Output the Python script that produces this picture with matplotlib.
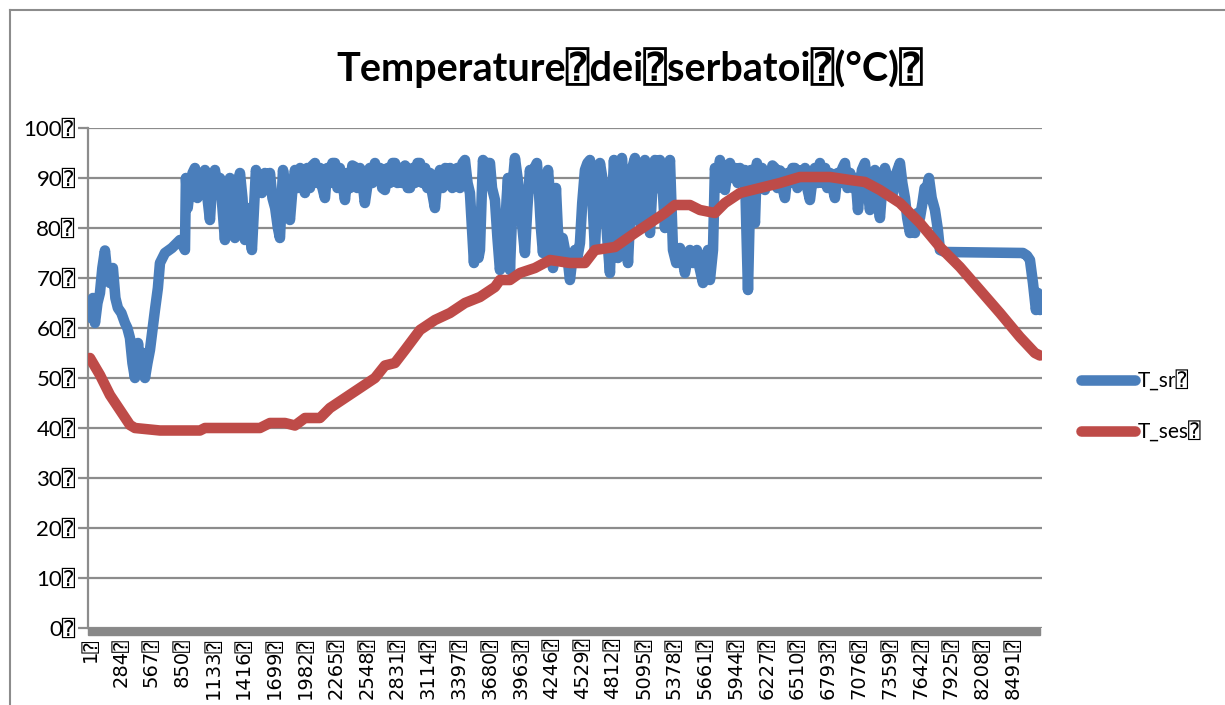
import matplotlib
matplotlib.use("Agg")
import matplotlib.pyplot as plt
from matplotlib.patches import Rectangle
from matplotlib.lines import Line2D

# ---- data ----
title_text = "Temperature⍰dei⍰serbatoi⍰(°C)⍰"
series_names = ["T_sr⍰", "T_ses⍰"]
y_ticks = [0, 10, 20, 30, 40, 50, 60, 70, 80, 90, 100]
x_tick_values = list(range(1, 8760, 283))

# (hour, °C) pairs for T_sr
t_sr_points = [
    (1, 64), (12, 62), (28, 66), (47, 61), (70, 65), (93, 67), (115, 72), (139, 75.5), (160, 71),
    (185, 69), (212, 72), (235, 66), (258, 64), (290, 63), (323, 61), (345, 60), (369, 58),
    (392, 53), (415, 50), (443, 57), (461, 53), (485, 55), (507, 50), (530, 53), (553, 55.6),
    (599, 63.6), (626, 68), (645, 73), (691, 75), (755, 76), (829, 77.6), (875, 75.6),
    (884, 90), (900, 84), (921, 88), (945, 91), (967, 92), (990, 86), (1013, 90), (1036, 87),
    (1059, 91.6), (1082, 86), (1105, 81.6), (1128, 90), (1151, 91.6), (1174, 88), (1197, 90),
    (1220, 84), (1243, 77.6), (1266, 88), (1289, 90), (1312, 82), (1335, 78), (1358, 88),
    (1381, 91), (1404, 86), (1427, 77.6), (1450, 84), (1470, 80), (1491, 75.6), (1510, 84),
    (1528, 91.6), (1550, 89), (1583, 87), (1610, 91), (1635, 88), (1657, 91), (1680, 86),
    (1705, 84), (1730, 80), (1749, 78), (1765, 86), (1777, 91.6), (1800, 88), (1820, 85),
    (1841, 81.6), (1865, 88), (1887, 91.6), (1910, 88), (1935, 92), (1955, 89), (1979, 87),
    (2000, 92), (2025, 88), (2048, 92.5), (2071, 93), (2095, 89), (2118, 92), (2140, 88),
    (2163, 86), (2185, 92), (2210, 89), (2232, 93), (2255, 93), (2278, 88), (2300, 92),
    (2325, 89), (2347, 85.6), (2370, 91), (2395, 88), (2415, 92.5), (2439, 92.2), (2460, 88),
    (2485, 92), (2510, 89), (2530, 85), (2550, 88), (2575, 92), (2600, 89), (2623, 93),
    (2645, 90), (2670, 92), (2690, 88), (2715, 87.6), (2740, 92), (2760, 89), (2785, 93),
    (2807, 93), (2830, 89), (2853, 92), (2875, 89), (2900, 92.5), (2925, 88), (2945, 88),
    (2970, 92), (2990, 89), (3015, 93), (3037, 93), (3060, 89), (3085, 92), (3105, 88),
    (3130, 91), (3150, 87), (3175, 84), (3198, 90), (3221, 91.6), (3245, 88), (3270, 92),
    (3290, 89), (3315, 92), (3335, 88), (3359, 89), (3380, 92), (3405, 88), (3430, 93),
    (3451, 93.6), (3475, 89), (3497, 87), (3534, 73), (3548, 80), (3561, 82), (3575, 74),
    (3589, 75.6), (3603, 85), (3617, 93.6), (3640, 90), (3660, 93), (3681, 93), (3700, 88),
    (3727, 85.6), (3750, 78), (3773, 71.6), (3796, 76), (3819, 79), (3835, 86), (3847, 90),
    (3856, 80), (3865, 71.6), (3880, 80), (3895, 90), (3911, 94), (3935, 90), (3957, 85.6),
    (3980, 80), (4003, 75), (4025, 84), (4049, 91.6), (4070, 88), (4090, 92), (4113, 93),
    (4130, 88), (4150, 80), (4169, 75), (4190, 84), (4215, 91.6), (4240, 85), (4261, 72),
    (4275, 80), (4288, 88), (4305, 80), (4325, 73.6), (4350, 78), (4371, 75.6), (4395, 74),
    (4417, 69.6), (4440, 74), (4463, 75.6), (4485, 74), (4509, 77), (4530, 85), (4555, 91.6),
    (4578, 93), (4601, 93.6), (4625, 85), (4647, 75.6), (4670, 88), (4693, 93), (4715, 90),
    (4739, 85), (4760, 78), (4785, 71), (4805, 85), (4822, 93.6), (4840, 85), (4859, 74),
    (4878, 85), (4895, 94), (4915, 88), (4935, 80), (4951, 73), (4970, 82), (4990, 92),
    (5015, 94), (5040, 88), (5061, 81), (5085, 90), (5107, 93.6), (5130, 87), (5153, 79),
    (5175, 88), (5199, 93.6), (5222, 88), (5245, 93.6), (5270, 88), (5291, 80), (5315, 88),
    (5337, 93.6), (5350, 85), (5365, 75.6), (5395, 73), (5429, 76), (5450, 74), (5475, 71),
    (5500, 74), (5521, 75.6), (5550, 73), (5585, 75.6), (5610, 72), (5641, 69), (5665, 74),
    (5687, 75.6), (5705, 69.6), (5733, 75.6), (5751, 92), (5775, 88), (5797, 93.6), (5820, 90),
    (5843, 87.6), (5865, 91), (5889, 93), (5915, 90), (5935, 92), (5960, 89), (5981, 92),
    (6005, 90), (6027, 91.6), (6040, 80), (6055, 67.6), (6068, 80), (6082, 91.6), (6100, 86),
    (6119, 81), (6137, 93), (6160, 89), (6185, 92), (6211, 87.6), (6235, 91), (6257, 89),
    (6280, 92.5), (6303, 92), (6325, 88), (6350, 91.5), (6373, 88), (6395, 86), (6420, 91),
    (6440, 89), (6465, 92), (6487, 92), (6510, 88), (6535, 91.5), (6555, 89), (6580, 92),
    (6600, 88), (6625, 85.6), (6650, 90), (6670, 92), (6695, 89), (6717, 93), (6740, 89),
    (6765, 92), (6785, 88), (6810, 91), (6835, 88), (6855, 86), (6880, 91), (6900, 89),
    (6925, 92), (6947, 93), (6970, 88), (6995, 91), (7020, 88), (7045, 90), (7067, 83.6),
    (7085, 88), (7103, 91.6), (7131, 93), (7155, 88), (7177, 83.6), (7200, 88), (7223, 91.6),
    (7245, 86), (7269, 82), (7290, 88), (7315, 92), (7350, 89), (7389, 87), (7420, 91),
    (7453, 93), (7475, 89), (7499, 86), (7520, 82), (7545, 79), (7568, 82), (7591, 79),
    (7615, 83), (7637, 82), (7660, 85), (7680, 88), (7700, 88), (7720, 90), (7745, 86),
    (7775, 83.6), (7800, 80), (7821, 75.6), (7867, 75.2), (8585, 75), (8621, 74.5),
    (8649, 73.6), (8677, 69), (8704, 63.6), (8723, 67), (8741, 63.6), (8760, 64),
]

# (hour, °C) pairs for T_ses
t_ses_points = [
    (1, 54), (93, 50.6), (185, 46.6), (277, 43.6), (369, 40.6), (415, 40), (645, 39.5),
    (1013, 39.5), (1059, 40), (1565, 40), (1657, 41), (1795, 41), (1887, 40.5), (1979, 42),
    (2117, 42), (2209, 44), (2347, 46), (2485, 48), (2623, 50), (2715, 52.5), (2807, 53),
    (2899, 55.6), (3037, 59.6), (3175, 61.6), (3313, 63), (3451, 65), (3589, 66.2),
    (3727, 68.2), (3773, 69.6), (3865, 69.6), (3957, 71), (4095, 72), (4233, 73.6),
    (4417, 73), (4555, 73), (4647, 75.6), (4831, 76.2), (4923, 77.6), (5015, 79), (5153, 81),
    (5291, 83), (5383, 84.6), (5521, 84.6), (5613, 83.6), (5751, 83), (5843, 85), (5981, 87),
    (6165, 88), (6349, 89), (6533, 90.2), (6809, 90.2), (6993, 89.6), (7131, 89.2),
    (7269, 87.6), (7453, 85), (7637, 81), (7821, 76.2), (8005, 72.2), (8189, 67.6),
    (8373, 63), (8557, 58.2), (8695, 55), (8741, 54.5),
]

sr_hours = [p[0] for p in t_sr_points]
sr_values = [p[1] for p in t_sr_points]
ses_hours = [p[0] for p in t_ses_points]
ses_values = [p[1] for p in t_ses_points]

# ---- styling ----
W, H = 1225, 705
BLUE = "#4a7ebb"
RED = "#be4b48"
GRID = "#8c8c8c"
FAM = ["Lato", "DejaVu Sans", "DejaVu Sans Mono"]

fig = plt.figure(figsize=(W / 100, H / 100), dpi=100)
fig.patch.set_facecolor("white")

def fx(px):
    return px / W

def fy(py):
    return 1 - py / H

ax_left, ax_right, ax_top, ax_bottom = 88, 1042, 128, 628
ax = fig.add_axes([fx(ax_left), fy(ax_bottom), fx(ax_right - ax_left), (ax_bottom - ax_top) / H])

lw = 7.6
ax.plot(sr_hours, sr_values, color=BLUE, lw=lw, solid_capstyle="round", solid_joinstyle="round",
        zorder=3)
ax.plot(ses_hours, ses_values, color=RED, lw=lw, solid_capstyle="round", solid_joinstyle="round",
        zorder=4)

ax.set_xlim(-17, 8760)
ax.set_ylim(0, 100)
for s in ["top", "right", "bottom"]:
    ax.spines[s].set_visible(False)
ax.spines["left"].set_color(GRID)
ax.spines["left"].set_linewidth(1.6)

ax.set_yticks(y_ticks)
ax.set_yticklabels([f"{v}⍰" for v in y_ticks], fontfamily=FAM, fontsize=16)
ax.yaxis.grid(True, color=GRID, lw=1.6)
ax.set_axisbelow(True)
ax.tick_params(axis="y", length=7, width=1.6, color=GRID, pad=2)

ax.set_xticks(x_tick_values)
ax.set_xticklabels([f"{v}⍰" for v in x_tick_values], rotation=90,
                   fontfamily=["DejaVu Sans", "DejaVu Sans Mono"], fontsize=14)
ax.tick_params(axis="x", length=0, pad=7)

# thick category-axis band
fig.patches.append(Rectangle((fx(ax_left), fy(635)), fx(1040 - ax_left), 7 / H,
                             transform=fig.transFigure, color="#888888", zorder=5))

# title
fig.text(fx(630), fy(68), title_text, ha="center", va="center", fontsize=28.5, fontweight="bold",
         family=FAM)

# legend
leg = fig.legend(handles=[Line2D([], [], color=BLUE, lw=lw, solid_capstyle="round"),
                          Line2D([], [], color=RED, lw=lw, solid_capstyle="round")],
                 labels=series_names, loc="center left",
                 bbox_to_anchor=(fx(1062), fy(406)), frameon=False, handlelength=2.6,
                 handletextpad=0.15, labelspacing=1.45, prop={"family": FAM, "size": 15})

# chart border (left and top)
fig.add_artist(Line2D([fx(10), fx(10)], [fy(10), 0], transform=fig.transFigure, color="#8c8c8c", lw=1.5))
fig.add_artist(Line2D([fx(10), 1], [fy(10), fy(10)], transform=fig.transFigure, color="#8c8c8c", lw=1.5))

fig.savefig("out.png", dpi=100)
